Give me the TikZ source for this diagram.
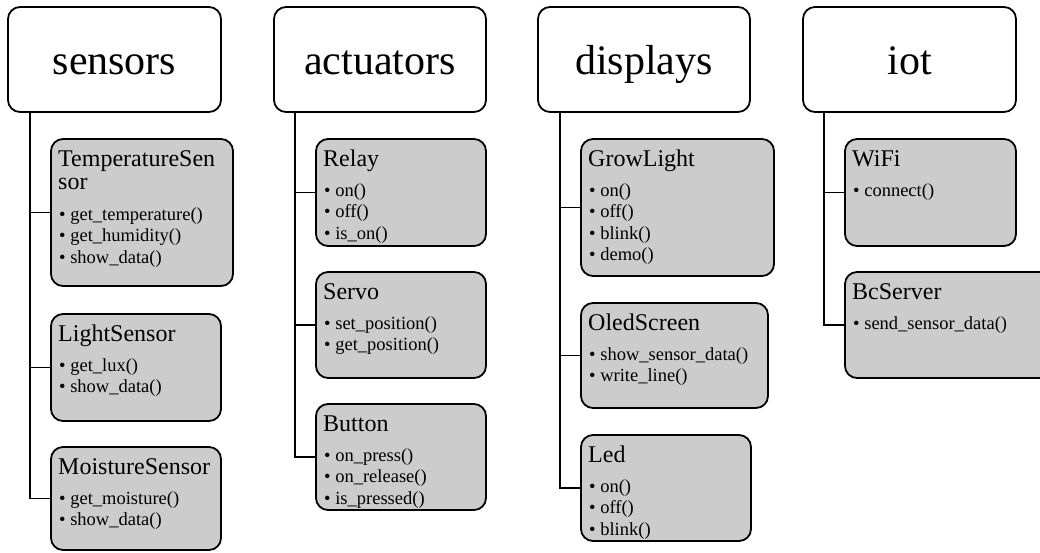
\documentclass[tikz,border=0pt]{standalone}
\usepackage{fontspec}
\setmainfont{Liberation Serif}
\definecolor{clsgray}{HTML}{CCCCCC}
\tikzset{
  grp/.style={draw=black, line width=1.8pt, rounded corners=12pt, fill=white,
    anchor=north west, inner sep=0pt, outer sep=0pt,
    font=\fontsize{42}{46}\selectfont, text height=29pt, text depth=0pt},
  cls/.style={draw=black, line width=1.8pt, rounded corners=12pt, fill=clsgray,
    anchor=north west, inner sep=0pt, outer sep=0pt},
  ctitle/.style={anchor=base west, inner sep=0pt,
    font=\fontsize{24}{23}\selectfont},
  citems/.style={anchor=base west, inner sep=0pt,
    font=\fontsize{18.5}{21.5}\selectfont},
  link/.style={draw=black, line width=1.8pt},
}
% one class box: name, x, y, width, height, title, offset of first item, items
\newcommand\classbox[8]{%
  \node[cls, minimum width=#4pt, minimum height=#5pt] (#1) at (#2,#3) {};
  \node[ctitle] (#1-title) at ([shift={(7,27)}]#1.north west) {#6};
  \node[citems] (#1-items) at ([shift={(8,#7)}]#1.north west) {\vtop{#8}};
}
% one bulleted method line
\newcommand\itm[1]{\hbox{\textbullet\ #1}}
\begin{document}
\begin{tikzpicture}[x=1pt,y=-1pt]
\path[use as bounding box] (0,0) rectangle (1040,552);
\clip (0,0) rectangle (1040,552);

% package boxes
\node[grp, minimum width=213pt, minimum height=105pt] (sensors) at (8,7) {sensors};
\node[grp, minimum width=212pt, minimum height=105pt] (actuators) at (274,7) {actuators};
\node[grp, minimum width=212pt, minimum height=105pt] (displays) at (538,7) {displays};
\node[grp, minimum width=213pt, minimum height=105pt] (iot) at (803,7) {iot};

% sensors
\classbox{temp}{51}{139}{182}{147}{\vtop{\hbox{TemperatureSen}\hbox{sor}}}{81}
  {\itm{get\_temperature()}\itm{get\_humidity()}\itm{show\_data()}}
\classbox{light}{51}{314}{170}{107}{LightSensor}{57}
  {\itm{get\_lux()}\itm{show\_data()}}
\classbox{moist}{51}{447}{170}{103}{MoistureSensor}{57}
  {\itm{get\_moisture()}\itm{show\_data()}}

% actuators
\classbox{relay}{316}{139}{170}{107}{Relay}{57}
  {\itm{on()}\itm{off()}\itm{is\_on()}}
\classbox{servo}{316}{272}{170}{106}{Servo}{57}
  {\itm{set\_position()}\itm{get\_position()}}
\classbox{button}{316}{404}{170}{106}{Button}{57}
  {\itm{on\_press()}\itm{on\_release()}\itm{is\_pressed()}}

% displays
\classbox{grow}{581}{139}{193}{137}{GrowLight}{57}
  {\itm{on()}\itm{off()}\itm{blink()}\itm{demo()}}
\classbox{oled}{581}{303}{187}{105}{OledScreen}{57}
  {\itm{show\_sensor\_data()}\itm{write\_line()}}
\classbox{led}{581}{435}{170}{106}{Led}{57}
  {\itm{on()}\itm{off()}\itm{blink()}}

% iot
\classbox{wifi}{845}{139}{171}{107}{WiFi}{57}
  {\itm{connect()}}
\classbox{bc}{845}{272}{210}{106}{BcServer}{57}
  {\itm{send\_sensor\_data()}}

% tree connectors
\foreach \c in {temp,light,moist}
  \draw[link] ([xshift=22pt]sensors.south west) |- (\c.west);
\foreach \c in {relay,servo,button}
  \draw[link] ([xshift=21pt]actuators.south west) |- (\c.west);
\foreach \c in {grow,oled,led}
  \draw[link] ([xshift=22pt]displays.south west) |- (\c.west);
\foreach \c in {wifi,bc}
  \draw[link] ([xshift=21pt]iot.south west) |- (\c.west);
\end{tikzpicture}
\end{document}
